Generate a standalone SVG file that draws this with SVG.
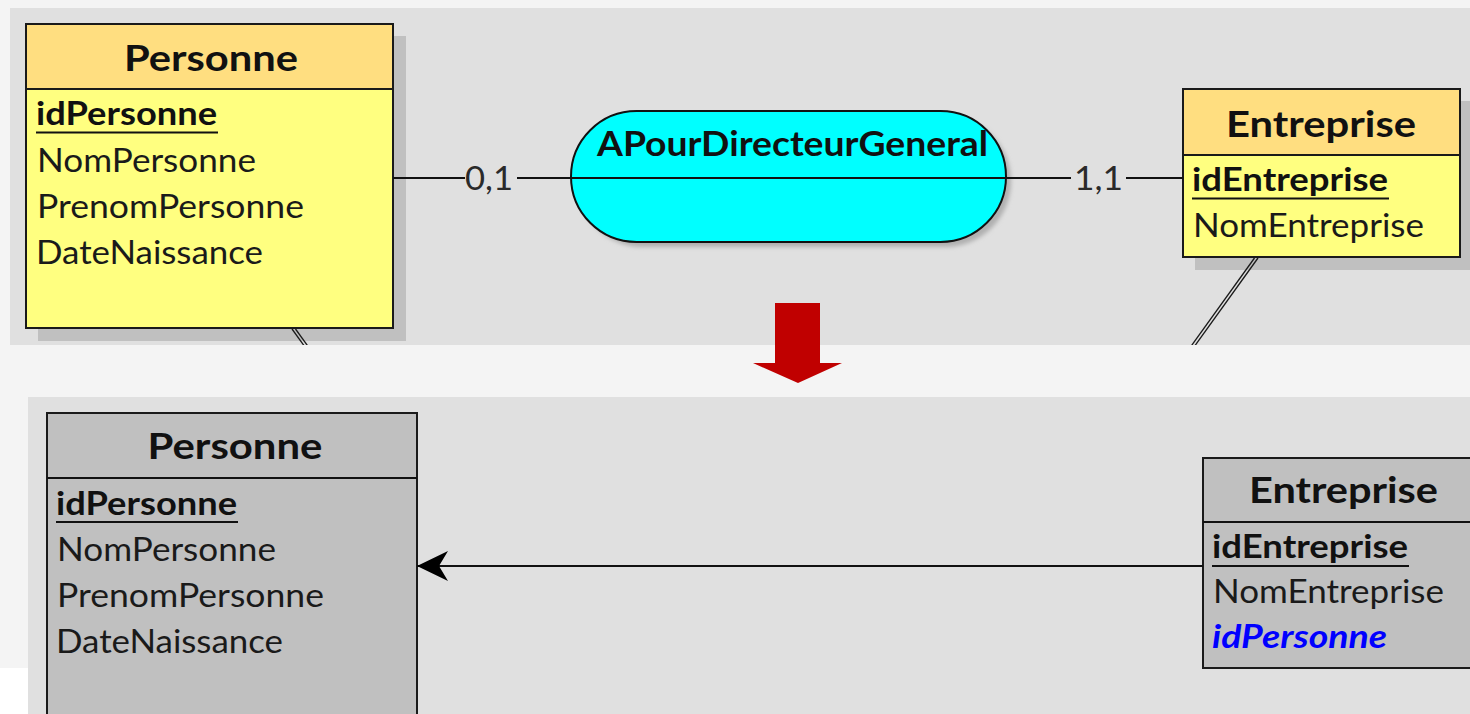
<svg xmlns="http://www.w3.org/2000/svg" width="1470" height="714" viewBox="0 0 1470 714">
<defs>
<style>
text{font-family:Lato,"Liberation Sans",sans-serif}
.t{font-weight:bold;font-size:37px;fill:#111;text-anchor:middle}
.as{font-weight:bold;font-size:34px;fill:#111;text-anchor:middle}
.a{font-size:32px;fill:#1a1a1a}
.k{font-size:32px;font-weight:bold;fill:#111}
.fk{font-size:32px;font-weight:bold;font-style:italic;fill:#0000ff}
.c{font-size:32px;fill:#2a2a2a;text-anchor:middle}
.box{stroke:#1a1a1a;stroke-width:2}
.hdr{fill:#ffde80}
.body{fill:#ffff80}
.gr{fill:#c0c0c0}
.sh{fill:#c0c0c0}
.ln{stroke:#111;stroke-width:2;fill:none}
.ul{stroke:#111;stroke-width:2}
.dbl{stroke:#1a1a1a;stroke-width:1.3;fill:none}
</style>
<marker id="arr" markerUnits="userSpaceOnUse" markerWidth="34" markerHeight="34" refX="32" refY="17" orient="auto" viewBox="0 0 34 34">
<path d="M32,17 L1,2 L10,17 L1,32 Z" fill="#000"/>
</marker>
<clipPath id="topclip"><rect x="10" y="8" width="1460" height="337"/></clipPath>
<filter id="blur" x="-10%" y="-10%" width="120%" height="130%"><feGaussianBlur stdDeviation="2"/></filter>
</defs>

<rect x="0" y="0" width="1470" height="714" fill="#f4f4f4"/>
<rect x="0" y="668" width="28" height="46" fill="#ffffff"/>
<rect x="10" y="8" width="1460" height="337" fill="#e0e0e0"/>
<rect x="28" y="397" width="1442" height="317" fill="#e0e0e0"/>

<g id="personne-top">
<rect class="sh" x="38" y="36" width="368" height="305"/>
<rect class="box body" x="26" y="24" width="367" height="304"/>
<rect class="box hdr" x="26" y="24" width="367" height="65"/>
<text class="t" x="211" y="71" textLength="174" lengthAdjust="spacingAndGlyphs">Personne</text>
<text class="k" x="36" y="125" textLength="181" lengthAdjust="spacingAndGlyphs">idPersonne</text>
<line class="ul" x1="36" y1="132.5" x2="218" y2="132.5"/>
<text class="a" x="37" y="172" textLength="219" lengthAdjust="spacingAndGlyphs">NomPersonne</text>
<text class="a" x="37" y="218" textLength="267" lengthAdjust="spacingAndGlyphs">PrenomPersonne</text>
<text class="a" x="36" y="264" textLength="227" lengthAdjust="spacingAndGlyphs">DateNaissance</text>
</g>

<g id="association">
<rect x="577" y="116" width="434" height="131" rx="65.5" fill="#b0b0b0" filter="url(#blur)"/>
<rect x="571" y="111" width="435" height="131" rx="65.5" fill="#00ffff" stroke="#111" stroke-width="2"/>
<line class="ln" x1="571" y1="178" x2="1006" y2="178"/>
<text class="as" x="792.5" y="156" textLength="391" lengthAdjust="spacingAndGlyphs">APourDirecteurGeneral</text>
</g>

<g id="entreprise-top">
<rect class="sh" x="1195" y="101" width="277" height="169"/>
<rect class="box body" x="1183" y="89" width="277" height="168"/>
<rect class="box hdr" x="1183" y="89" width="277" height="66"/>
<text class="t" x="1321" y="137" textLength="190" lengthAdjust="spacingAndGlyphs">Entreprise</text>
<text class="k" x="1192" y="191" textLength="196" lengthAdjust="spacingAndGlyphs">idEntreprise</text>
<line class="ul" x1="1192" y1="198.5" x2="1389" y2="198.5"/>
<text class="a" x="1193" y="237" textLength="231" lengthAdjust="spacingAndGlyphs">NomEntreprise</text>
</g>

<g id="transform-arrow">
<path d="M775,303 H820 V363 H842 L798,383 L753,363 H775 Z" fill="#c00000"/>
</g>

<g id="personne-bottom">
<rect class="box gr" x="47" y="413" width="370" height="320"/>
<line class="ln" x1="47" y1="478" x2="417" y2="478"/>
<text class="t" x="235" y="459" textLength="175" lengthAdjust="spacingAndGlyphs">Personne</text>
<text class="k" x="56" y="515" textLength="181" lengthAdjust="spacingAndGlyphs">idPersonne</text>
<line class="ul" x1="56" y1="522" x2="238" y2="522"/>
<text class="a" x="57" y="561" textLength="219" lengthAdjust="spacingAndGlyphs">NomPersonne</text>
<text class="a" x="57" y="607" textLength="267" lengthAdjust="spacingAndGlyphs">PrenomPersonne</text>
<text class="a" x="56" y="653" textLength="227" lengthAdjust="spacingAndGlyphs">DateNaissance</text>
</g>

<g id="entreprise-bottom">
<rect class="box gr" x="1203" y="458" width="290" height="210"/>
<line class="ln" x1="1203" y1="522" x2="1493" y2="522"/>
<text class="t" x="1343.5" y="503" textLength="189" lengthAdjust="spacingAndGlyphs">Entreprise</text>
<text class="k" x="1212" y="558" textLength="196" lengthAdjust="spacingAndGlyphs">idEntreprise</text>
<line class="ul" x1="1212" y1="566" x2="1409" y2="566"/>
<text class="a" x="1213" y="603" textLength="231" lengthAdjust="spacingAndGlyphs">NomEntreprise</text>
<text class="fk" x="1212" y="648" textLength="175" lengthAdjust="spacingAndGlyphs">idPersonne</text>
</g>

<g id="connectors">
<g clip-path="url(#topclip)">
<line class="ln" x1="393" y1="178" x2="465" y2="178"/>
<line class="ln" x1="517" y1="178" x2="571" y2="178"/>
<line class="ln" x1="1006" y1="178" x2="1071" y2="178"/>
<line class="ln" x1="1126" y1="178" x2="1183" y2="178"/>
<line class="dbl" x1="292" y1="329" x2="305" y2="347"/>
<line class="dbl" x1="295.5" y1="329" x2="308.5" y2="347"/>
<line class="dbl" x1="1254.5" y1="258" x2="1190.5" y2="347"/>
<line class="dbl" x1="1258" y1="258" x2="1194" y2="347"/>
</g>
<text class="c" x="489" y="190" textLength="48" lengthAdjust="spacingAndGlyphs">0,1</text>
<text class="c" x="1098.5" y="190" textLength="49" lengthAdjust="spacingAndGlyphs">1,1</text>
<line class="ln" x1="1203" y1="566" x2="417" y2="566" marker-end="url(#arr)"/>
</g>
</svg>
